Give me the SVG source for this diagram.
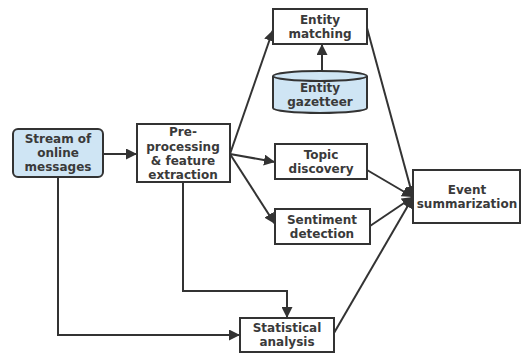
<svg xmlns="http://www.w3.org/2000/svg" width="522" height="354" viewBox="0 0 522 354">
<defs>
<marker id="ah" viewBox="0 0 10 10" refX="10" refY="5" markerWidth="5.5" markerHeight="5.5" orient="auto" markerUnits="strokeWidth">
<path d="M0,0 L10,5 L0,10 z" fill="#333"/>
</marker>
<style>
.box{fill:#fff;stroke:#333;stroke-width:2}
.blue{fill:#cfe5f4;stroke:#333;stroke-width:2}
.t{font-family:"DejaVu Sans",sans-serif;font-weight:bold;font-size:12px;fill:#3a3a3a;text-anchor:middle}
.c{fill:none;stroke:#333;stroke-width:2;marker-end:url(#ah)}
</style>
</defs>
<rect width="522" height="354" fill="#fff"/>
<g id="connectors">
<line class="c" x1="103" y1="154" x2="137" y2="154"/>
<polyline class="c" points="58,177 58,335 240,335"/>
<polyline class="c" points="183,182 183,291 287,291 287,318"/>
<line class="c" x1="230" y1="154" x2="273" y2="30"/>
<line class="c" x1="230" y1="154" x2="275" y2="162"/>
<line class="c" x1="230" y1="154" x2="275" y2="224"/>
<line class="c" x1="322" y1="71" x2="322" y2="44"/>
<line class="c" x1="367" y1="28" x2="413" y2="197"/>
<line class="c" x1="367" y1="170" x2="413" y2="197"/>
<line class="c" x1="370" y1="226" x2="413" y2="197"/>
<line class="c" x1="334" y1="333" x2="413" y2="197"/>
</g>
<g id="stream">
<rect class="blue" x="13" y="129" width="90" height="48" rx="5"/>
<text class="t" x="58" y="143">Stream of</text>
<text class="t" x="58" y="157">online</text>
<text class="t" x="58" y="171">messages</text>
</g>
<g id="preprocessing">
<rect class="box" x="137" y="124" width="93" height="58"/>
<text class="t" x="183" y="136">Pre-</text>
<text class="t" x="183" y="151">processing</text>
<text class="t" x="183" y="165">&amp; feature</text>
<text class="t" x="183" y="179">extraction</text>
</g>
<g id="entity-matching">
<rect class="box" x="273" y="9" width="94" height="35"/>
<text class="t" x="320" y="24">Entity</text>
<text class="t" x="320" y="38">matching</text>
</g>
<g id="entity-gazetteer">
<path class="blue" d="M273,76 L273,108 A47,5 0 0 0 367,108 L367,76 A47,5 0 0 0 273,76 z"/>
<path d="M273,76 A47,5 0 0 0 367,76" fill="none" stroke="#333" stroke-width="2"/>
<text class="t" x="320" y="92">Entity</text>
<text class="t" x="320" y="106">gazetteer</text>
</g>
<g id="topic-discovery">
<rect class="box" x="275" y="144" width="92" height="35"/>
<text class="t" x="321" y="159">Topic</text>
<text class="t" x="321" y="173">discovery</text>
</g>
<g id="sentiment-detection">
<rect class="box" x="275" y="209" width="95" height="35"/>
<text class="t" x="322" y="224">Sentiment</text>
<text class="t" x="322" y="238">detection</text>
</g>
<g id="event-summarization">
<rect class="box" x="413" y="170" width="107" height="53"/>
<text class="t" x="467" y="194">Event</text>
<text class="t" x="467" y="208">summarization</text>
</g>
<g id="statistical-analysis">
<rect class="box" x="240" y="318" width="94" height="34"/>
<text class="t" x="287" y="332">Statistical</text>
<text class="t" x="287" y="346">analysis</text>
</g>
</svg>
